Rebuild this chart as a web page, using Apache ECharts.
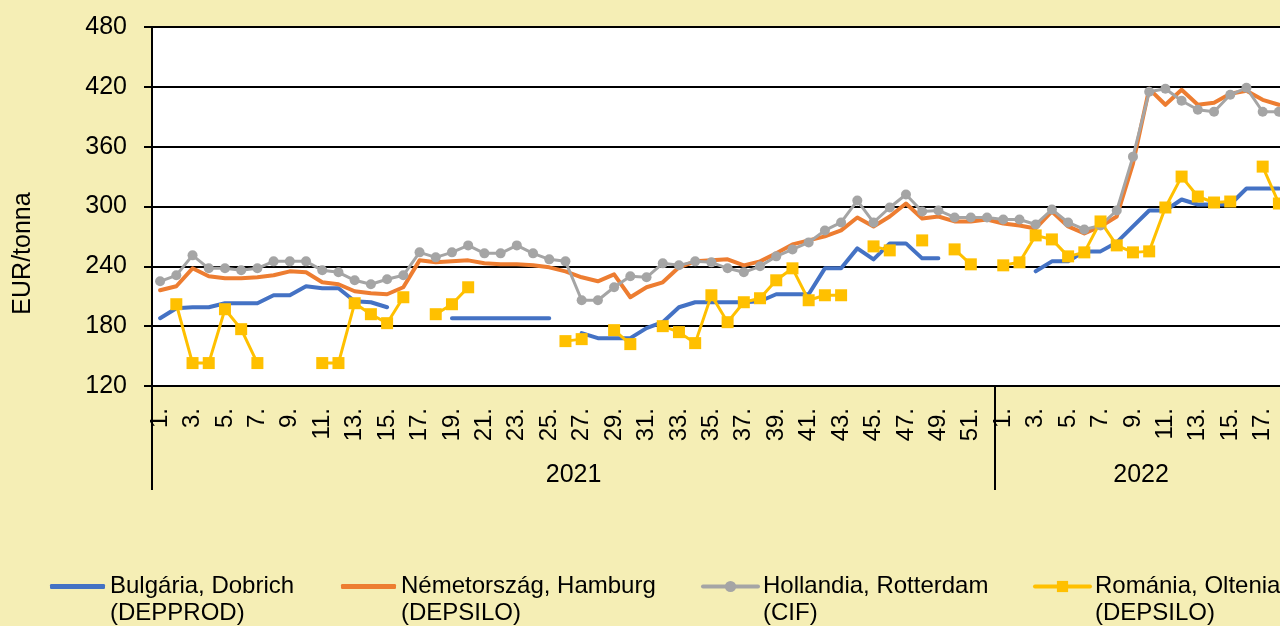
<!DOCTYPE html>
<html><head><meta charset="utf-8">
<script src="https://cdn.jsdelivr.net/npm/echarts@6/dist/echarts.min.js"></script>
<style>html,body{margin:0;padding:0;background:#F5EEB5;}#c{width:1280px;height:626px;}</style>
</head><body><div id="c"></div>
<script>
// ---- categories / tick labels ----
const weeks2021 = ['1.','2.','3.','4.','5.','6.','7.','8.','9.','10.','11.','12.','13.','14.','15.','16.','17.','18.','19.','20.','21.','22.','23.','24.','25.','26.','27.','28.','29.','30.','31.','32.','33.','34.','35.','36.','37.','38.','39.','40.','41.','42.','43.','44.','45.','46.','47.','48.','49.','50.','51.','52.'];
const weeks2022 = ['1.','2.','3.','4.','5.','6.','7.','8.','9.','10.','11.','12.','13.','14.','15.','16.','17.','18.'];
const years = ['2021', '2022'];
const yMin = 120, yMax = 480, yStep = 60;

const seriesNames = ['Bulgária, Dobrich\n(DEPPROD)', 'Németország, Hamburg\n(DEPSILO)', 'Hollandia, Rotterdam\n(CIF)', 'Románia, Oltenia\n(DEPSILO)'];

// ---- values (EUR/tonna) ----
const bulgaria2021 = [188,198,199,199,203,203,203,211,211,220,218,218,205,204,199,null,null,null,188,188,188,188,188,188,188,null,173,168,168,168,178,184,199,204,204,204,204,205,212,212,212,238,238,258,247,263,263,248,248,null,null,null];
const bulgaria2022 = [null,null,235,245,245,255,255,264,280,296,296,307,302,302,302,318,318,318];

const nemet2021 = [216,220,238,230,228,228,229,231,235,234,224,222,215,213,212,219,246,244,245,246,243,242,242,241,239,235,229,225,232,209,219,224,239,245,246,247,241,245,253,262,266,270,276,289,280,290,303,288,290,285,285,287];
const nemet2022 = [283,281,278,295,280,273,280,290,343,418,402,417,402,404,413,416,407,402];

const holland2021 = [225,231,251,238,238,236,238,245,245,245,236,234,226,222,227,231,254,249,254,261,253,253,261,253,247,245,206,206,219,230,229,243,241,245,244,238,234,240,250,257,264,276,284,306,284,299,312,295,296,289,289,289];
const holland2022 = [287,287,282,297,284,277,281,296,350,415,418,406,397,395,412,419,395,395];

const roman2021 = [null,202,143,143,197,177,143,null,null,null,143,143,203,192,183,209,null,192,202,219,null,null,null,null,null,165,167,null,176,162,null,180,174,163,211,184,204,208,226,238,206,211,211,null,260,256,null,266,null,257,242,null];
const roman2022 = [241,244,271,267,250,254,285,261,254,255,299,330,310,304,305,null,340,303];

// ---- layout / style ----
const colors = ['#4472C4', '#ED7D31', '#A5A5A5', '#FFC000'];
const legendLeft = [50, 341, 701, 1033];
const FONT = 'Liberation Sans';

const cats = weeks2021.concat(weeks2022);
const nCat = cats.length;
const yearMids = [weeks2021.length / 2, weeks2021.length + weeks2022.length / 2];
const yearBounds = [0, weeks2021.length, nCat];

const dataSets = [
  bulgaria2021.concat(bulgaria2022),
  nemet2021.concat(nemet2022),
  holland2021.concat(holland2022),
  roman2021.concat(roman2022)
];
const symbols = ['none', 'none', 'circle', 'rect'];
const symbolSizes = [0, 0, 10, 12];
const widths = [4, 4, 3, 3];

const chart = echarts.init(document.getElementById('c'), null, {renderer: 'canvas'});
const option = {
  backgroundColor: '#F5EEB5',
  animation: false,
  textStyle: {fontFamily: FONT},
  grid: {left: 152, top: 27, width: 1135, height: 359, outerBoundsMode: 'none', containLabel: false, show: true, backgroundColor: '#ffffff', borderWidth: 0},
  xAxis: [
    {
      type: 'category', data: cats, boundaryGap: true,
      axisLine: {show: true, lineStyle: {color: '#000', width: 2}},
      axisTick: {show: false},
      axisLabel: {interval: 1, rotate: 90, fontSize: 24, color: '#000', margin: 22, fontFamily: FONT},
      splitLine: {show: false}
    },
    {
      type: 'value', min: 0, max: nCat, position: 'bottom',
      axisLine: {show: false}, splitLine: {show: false},
      axisTick: {show: true, customValues: yearBounds, length: 104, lineStyle: {color: '#000', width: 2}},
      axisLabel: {customValues: yearMids, formatter: v => years[yearMids.indexOf(v)], fontSize: 25, color: '#000', margin: 77, fontFamily: FONT}
    }
  ],
  yAxis: {
    type: 'value', min: yMin, max: yMax, interval: yStep,
    name: 'EUR/tonna', nameLocation: 'middle', nameGap: 116,
    nameTextStyle: {fontSize: 25, color: '#000', fontFamily: FONT, padding: [0, 94, 0, 0]},
    axisLine: {show: true, lineStyle: {color: '#000', width: 2}},
    axisTick: {show: true, length: 8, lineStyle: {color: '#000', width: 2}},
    axisLabel: {fontSize: 25, color: '#000', margin: 25, fontFamily: FONT},
    splitLine: {show: true, lineStyle: {color: '#000', width: 2}}
  },
  legend: seriesNames.map((n, i) => ({
    data: [symbols[i] === 'none' ? {name: n, icon: 'roundRect'} : {name: n}],
    left: legendLeft[i], top: 546, padding: 0,
    itemWidth: 55, itemHeight: symbols[i] === 'none' ? 5 : 14, selectedMode: false,
    formatter: name => ' \n' + name,
    lineStyle: {width: 4},
    textStyle: {fontSize: 24, color: '#000', lineHeight: 27, fontFamily: FONT}
  })),
  series: seriesNames.map((n, i) => ({
    name: n, type: 'line', xAxisIndex: 0, yAxisIndex: 0,
    data: dataSets[i], connectNulls: false,
    symbol: symbols[i], symbolSize: symbolSizes[i], showSymbol: symbols[i] !== 'none', showAllSymbol: true,
    lineStyle: {color: colors[i], width: widths[i], cap: 'round', join: 'round'},
    itemStyle: {color: colors[i]},
    emphasis: {disabled: true}
  }))
};
chart.setOption(option);
</script>
</body></html>
